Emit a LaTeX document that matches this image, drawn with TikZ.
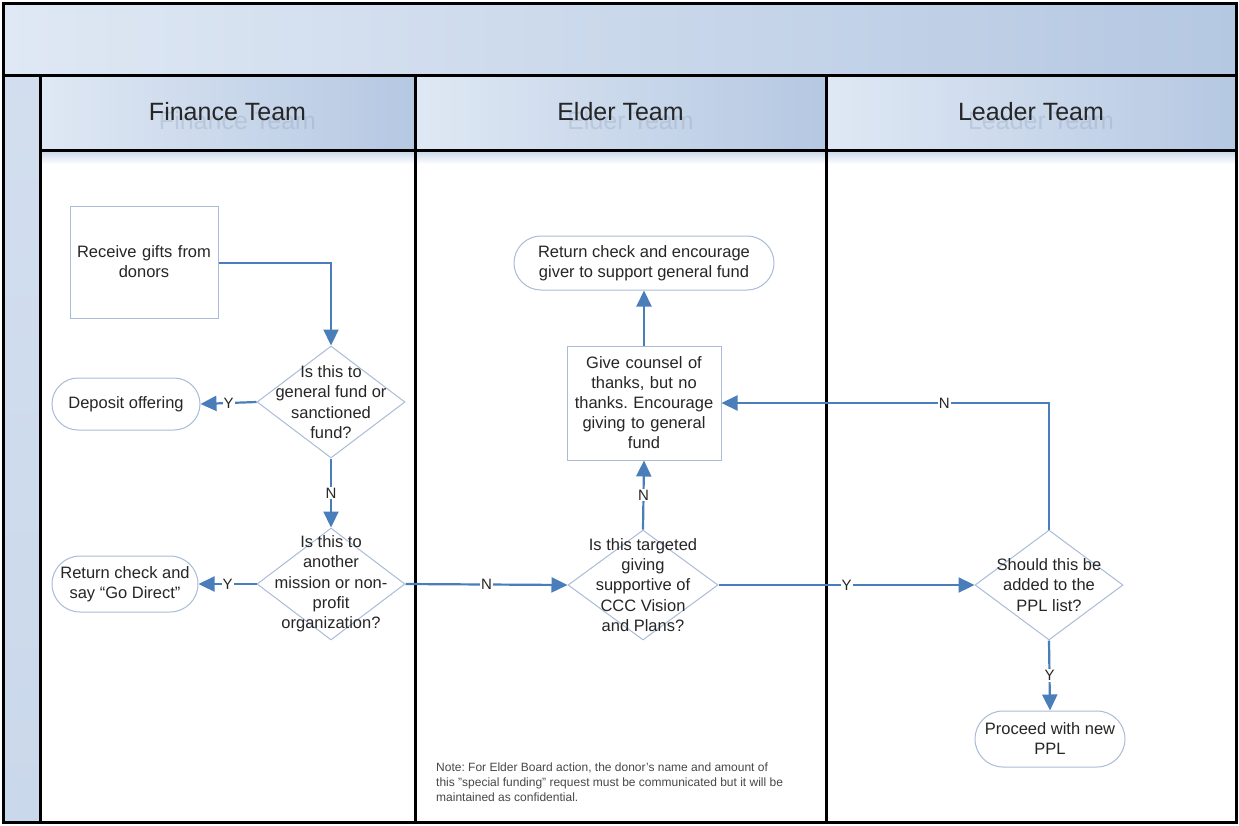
\documentclass[tikz,border=0pt]{standalone}
\usepackage{fontspec}
\setmainfont{Liberation Sans}
\usetikzlibrary{shapes.geometric,arrows.meta}
\definecolor{flowc}{HTML}{4A7EBB}
\definecolor{nodeline}{HTML}{A9BCD8}
\definecolor{txt}{HTML}{262626}
\definecolor{hdrL}{HTML}{DFE8F4}
\definecolor{hdrR}{HTML}{B5C8E2}
\definecolor{ghost}{HTML}{8E9DB5}
\frenchspacing
\begin{document}
\begin{tikzpicture}[x=1pt,y=-1pt,
  proc/.style={draw=nodeline, line width=1pt, fill=white, text=txt,
    font=\fontsize{16.5}{20}\selectfont, align=center, inner sep=2pt},
  dec/.style={diamond, draw=nodeline, line width=1pt, fill=white, inner sep=0pt,
    minimum width=148pt, minimum height=112pt},
  dtext/.style={text=txt, font=\fontsize{16.5}{20.3}\selectfont, align=center},
  flowline/.style={draw=flowc, line width=2.2pt, -{Triangle[length=16pt,width=15pt]}},
  lbl/.style={fill=white, text=txt, font=\fontsize{15}{18}\selectfont, inner sep=1pt},
  hdr/.style={text=txt, font=\fontsize{25}{30}\selectfont},
  ghosttext/.style={text=ghost, opacity=0.3, font=\fontsize{25}{30}\selectfont},
  lane/.style={line width=3pt, draw=black}
]
\useasboundingbox (0,0) rectangle (1239,825);
% backgrounds
\fill[white] (0,0) rectangle (1239,825);
\shade[left color=hdrL, right color=hdrR] (3,3) rectangle (1236,75);
\shade[top color=hdrL!70!hdrR, bottom color=hdrL!50!hdrR] (3,75) rectangle (40,822);
\shade[left color=hdrL, right color=hdrR] (40,75) rectangle (415,150);
\shade[left color=hdrL, right color=hdrR] (415,75) rectangle (826,150);
\shade[left color=hdrL, right color=hdrR] (826,75) rectangle (1236,150);
\shade[top color=hdrL!50!hdrR, bottom color=white] (40,151) rectangle (1236,164);
% header texts
\begin{scope}
\clip (40,75) rectangle (1236,150);
\node[ghosttext] (g1) at (237.5,121) {Finance Team};
\node[ghosttext] (g2) at (630.5,121) {Elder Team};
\node[ghosttext] (g3) at (1041,121) {Leader Team};
\end{scope}
\node[hdr] (h1) at (227.5,112) {Finance Team};
\node[hdr] (h2) at (620.5,112) {Elder Team};
\node[hdr] (h3) at (1031,112) {Leader Team};
% lane lines
\draw[lane] (3,3) rectangle (1236,822);
\draw[lane] (3,75) -- (1236,75);
\draw[lane] (40,150) -- (1236,150);
\draw[lane] (40,75) -- (40,822);
\draw[lane] (415,75) -- (415,822);
\draw[lane] (826,75) -- (826,822);

% nodes
\node[proc, minimum width=148pt, minimum height=112pt, text width=140pt] (rcv) at (144,262) {Receive gifts from\\donors};
\node[dec, label={[dtext]center:{Is this to\\general fund or\\sanctioned\\fund?}}] (d1) at (331,402) {};
\node[proc, rounded corners=26pt, minimum width=148pt, minimum height=52pt] (dep) at (126,404) {Deposit offering};
\node[dec, label={[dtext]center:{Is this to\\another\\mission or non-\\profit\\organization?}}] (d2) at (331,584) {};
\node[proc, rounded corners=28pt, minimum width=146pt, minimum height=56pt] (gd) at (125,584) {Return check and\\say “Go Direct”};
\node[dec, minimum width=150pt, minimum height=110pt, label={[dtext]center:{Is this targeted\\giving\\supportive of\\CCC Vision\\and Plans?}}] (d3) at (643,585) {};
\node[proc, minimum width=152pt, minimum height=114pt, text width=150pt] (gc) at (644,403) {Give counsel of\\thanks, but no\\thanks. Encourage\\giving to general\\fund};
\node[proc, rounded corners=27pt, minimum width=260pt, minimum height=54pt] (ret) at (644,263) {Return check and encourage\\giver to support general fund};
\node[dec, minimum width=148pt, minimum height=110pt, label={[dtext]center:{Should this be\\added to the\\PPL list?}}] (d4) at (1049,585) {};
\node[proc, rounded corners=28pt, minimum width=150pt, minimum height=56pt] (ppl) at (1050,739) {Proceed with new\\PPL};
\node[text=txt!85, font=\fontsize{12}{15}\selectfont, align=left, anchor=north west, inner sep=0pt] (note) at (436,763)
  {Note: For Elder Board action, the donor's name and amount of\\this "special funding" request must be communicated but it will be\\maintained as confidential.};

% connectors
\draw[flowline] (rcv.east |- 0,263) -| (d1.north);
\draw[flowline] (d1.west) -- node[lbl] {Y} (dep.east);
\draw[flowline] (d1.south) -- node[lbl] {N} (d2.north);
\draw[flowline] (d2.west) -- node[lbl] {Y} (gd.east);
\draw[flowline] (d2.east) -- node[lbl] {N} (d3.west);
\draw[flowline] (d3.north) -- node[lbl] {N} (gc.south);
\draw[flowline] (gc.north) -- (ret.south);
\draw[flowline] (d3.east) -- node[lbl] {Y} (d4.west);
\draw[flowline] (d4.north) |- node[lbl, pos=0.66] {N} (gc.east);
\draw[flowline] (d4.south) -- node[lbl] {Y} (ppl.north);
\end{tikzpicture}
\end{document}
